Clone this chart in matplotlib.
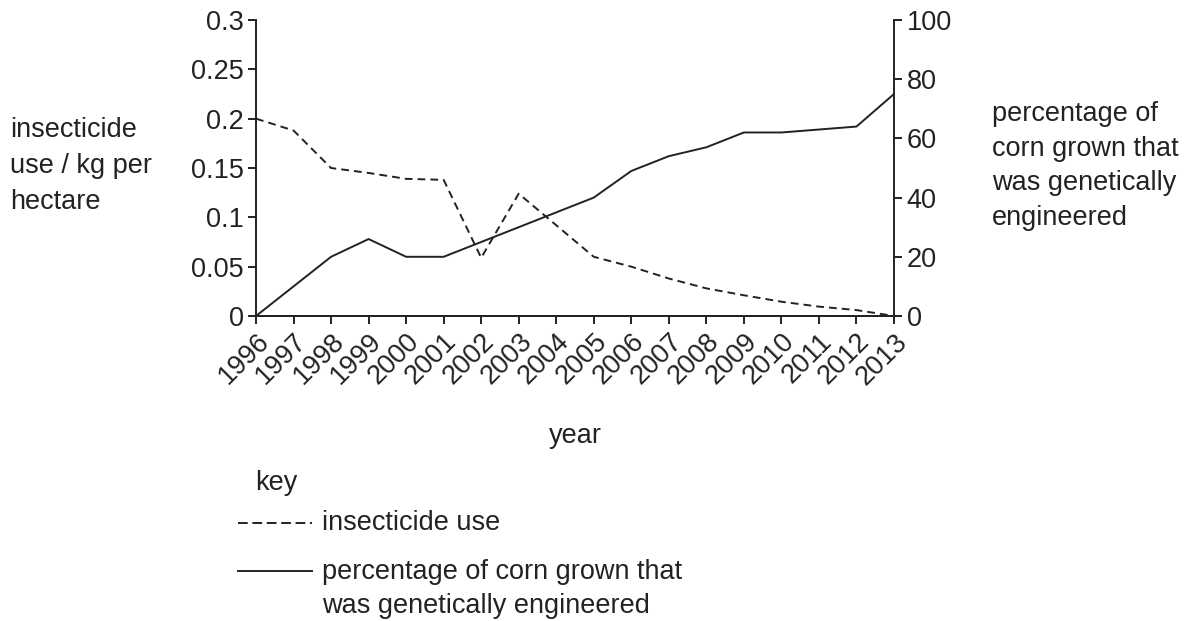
import numpy as np
import matplotlib
matplotlib.use('Agg')
from matplotlib import pyplot as plt
from matplotlib.lines import Line2D

plt.rcParams['font.family'] = ['Liberation Sans', 'DejaVu Sans']

# data
years = list(range(1996, 2014))
insecticide = [0.2, 0.188, 0.15, 0.145, 0.139, 0.138, 0.059, 0.124, 0.092, 0.06,
               0.05, 0.038, 0.028, 0.021, 0.0145, 0.0095, 0.006, 0.0]
gm_percent = [0, 10, 20, 26, 20, 20, 25, 30, 35, 40,
              49, 54, 57, 62, 62, 63, 64, 75]
left_ticks = [0, 0.05, 0.1, 0.15, 0.2, 0.25, 0.3]
left_labels = ['0', '0.05', '0.1', '0.15', '0.2', '0.25', '0.3']
right_ticks = [0, 20, 40, 60, 80, 100]

ink = '#222222'
fs = 19.5

fig = plt.figure(figsize=(11.92, 6.21), dpi=100)
ax = fig.add_axes([256 / 1192, 1 - 316 / 621, 638 / 1192, 296 / 621])
ax2 = ax.twinx()

ax.plot(years, insecticide, color=ink, lw=1.4, dashes=(4, 2.6))
ax2.plot(years, gm_percent, color=ink, lw=1.4)

ax.set_xlim(1996, 2013)
ax.set_ylim(0, 0.3)
ax2.set_ylim(0, 100)

ax.set_yticks(left_ticks)
ax.set_yticklabels(left_labels)
ax2.set_yticks(right_ticks)
ax.set_xticks(years)
ax.set_xticklabels([str(y) for y in years], rotation=45, ha='right',
                   rotation_mode='anchor')

for a in (ax, ax2):
    a.spines['top'].set_visible(False)
    for s in a.spines.values():
        s.set_color(ink)
        s.set_linewidth(1.4)
    a.tick_params(direction='out', length=6, width=1.4, color=ink,
                  labelsize=fs, labelcolor=ink, pad=3)
ax.spines['right'].set_visible(False)
ax2.spines['left'].set_visible(False)

ax.set_xlabel('year', fontsize=fs, color=ink)
ax.xaxis.set_label_coords(0.5, -0.362)

fig.text(10 / 1192, 1 - 166 / 621, 'insecticide\nuse / kg per\nhectare',
         fontsize=fs, color=ink, va='center', ha='left', linespacing=1.5)
fig.text(992 / 1192, 1 - 166 / 621,
         'percentage of\ncorn grown that\nwas genetically\nengineered',
         fontsize=fs, color=ink, va='center', ha='left', linespacing=1.43)

# key
fig.text(255 / 1192, 1 - 483 / 621, 'key', fontsize=fs, color=ink, va='center')
fig.add_artist(Line2D([238 / 1192, 312 / 1192], [1 - 523 / 621] * 2,
                      color=ink, lw=1.4, dashes=(5, 2.4)))
fig.text(322 / 1192, 1 - 523 / 621, 'insecticide use', fontsize=fs, color=ink,
         va='center')
fig.add_artist(Line2D([238 / 1192, 312 / 1192], [1 - 571 / 621] * 2,
                      color=ink, lw=1.4))
fig.text(322 / 1192, 1 - 589 / 621,
         'percentage of corn grown that\nwas genetically engineered',
         fontsize=fs, color=ink, va='center', ha='left', linespacing=1.37)

fig.savefig('out.png', dpi=100)
